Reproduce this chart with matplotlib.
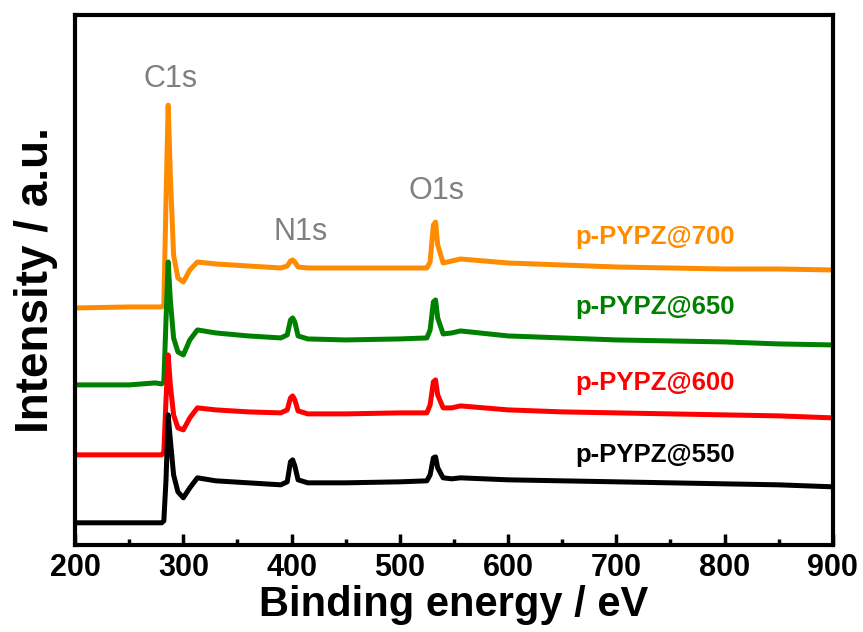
import matplotlib
matplotlib.use("Agg")
import matplotlib.pyplot as plt
from matplotlib.ticker import MultipleLocator

plt.rcParams['font.family'] = ['Liberation Sans', 'DejaVu Sans']

# binding energy breakpoints (eV)
energy = [200, 250, 274, 280, 282, 284, 286, 288, 291, 295, 300, 306, 313, 330,
          360, 390, 396, 399, 401, 403, 406, 415, 450, 500, 525, 528, 531, 533,
          535, 540, 548, 556, 600, 650, 700, 750, 800, 850, 900]

# stacked intensities (a.u., offsets included)
int_550 = [22, 22, 22, 22, 24, 65, 130, 105, 70, 53, 47, 57, 67, 64,
           62, 60, 63, 83, 85, 79, 65, 62, 62, 63, 64, 70, 87, 88,
           77, 67, 66, 67, 65, 64, 63, 62, 61, 60, 58]
int_600 = [90, 90, 90, 90, 93, 145, 190, 160, 130, 117, 115, 127, 137, 135,
           133, 132, 135, 147, 149, 145, 134, 131, 131, 132, 132, 140, 163, 165,
           150, 137, 137, 139, 135, 133, 132, 131, 130, 129, 127]
int_650 = [160, 160, 162, 161, 163, 225, 283, 245, 207, 193, 190, 205, 215, 212,
           209, 207, 210, 225, 227, 223, 209, 206, 205, 206, 207, 215, 243, 245,
           227, 211, 212, 214, 209, 207, 205, 204, 203, 201, 200]
int_700 = [237, 238, 238, 238, 240, 345, 440, 370, 290, 267, 263, 275, 283, 281,
           279, 277, 279, 284, 285, 283, 278, 277, 277, 277, 277, 283, 320, 323,
           300, 282, 284, 286, 282, 280, 278, 277, 276, 276, 275]

samples = ['p-PYPZ@700', 'p-PYPZ@650', 'p-PYPZ@600', 'p-PYPZ@550']
colors = ['#FF8C00', '#008000', '#FF0000', '#000000']
label_y = [308, 238, 162, 90]

peaks = ['C1s', 'N1s', 'O1s']
peak_x = [288, 408, 534]
peak_y = [466, 313, 354]

fig = plt.figure(figsize=(8.63, 6.32), dpi=100)
ax = fig.add_axes([0.087, 0.138, 0.878, 0.838])

for name, y, c, ly in zip(samples, [int_700, int_650, int_600, int_550], colors, label_y):
    ax.plot(energy, y, color=c, lw=3.6, solid_joinstyle='round')
    ax.text(736, ly, name, color=c, fontsize=18.5, fontweight='bold',
            ha='center', va='center')

for p, px, py in zip(peaks, peak_x, peak_y):
    ax.text(px, py, p, color='#808080', fontsize=22, ha='center', va='center')

ax.set_xlim(200, 900)
ax.set_ylim(0, 530)
ax.set_yticks([])
ax.xaxis.set_major_locator(MultipleLocator(100))
ax.xaxis.set_minor_locator(MultipleLocator(50))
ax.tick_params(axis='x', which='major', direction='in', length=8, width=2.5,
               labelsize=22, pad=6)
ax.tick_params(axis='x', which='minor', direction='in', length=4.5, width=2.5)
for lab in ax.get_xticklabels():
    lab.set_fontweight('bold')
for s in ax.spines.values():
    s.set_linewidth(3)

ax.set_xlabel('Binding energy / eV', fontsize=30, fontweight='bold', labelpad=1)
ax.set_ylabel('Intensity / a.u.', fontsize=33, fontweight='bold', labelpad=12)

fig.savefig('out.png', dpi=100)
